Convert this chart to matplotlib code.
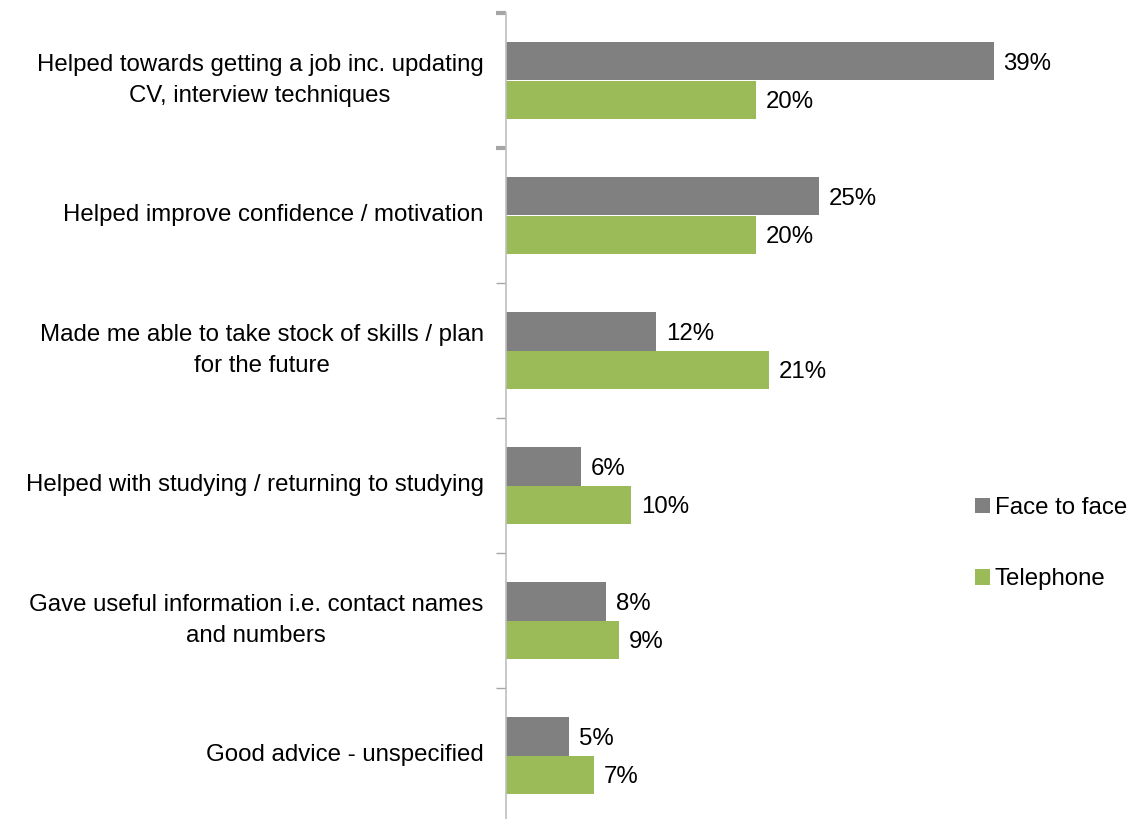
import matplotlib.pyplot as plt
from matplotlib.patches import Patch

categories = [
    "Helped towards getting a job inc. updating\nCV, interview techniques",
    "Helped improve confidence / motivation",
    "Made me able to take stock of skills / plan\nfor the future",
    "Helped with studying / returning to studying",
    "Gave useful information i.e. contact names\nand numbers",
    "Good advice - unspecified",
]
face_to_face = [39, 25, 12, 6, 8, 5]
telephone = [20, 20, 21, 10, 9, 7]
series_names = ["Face to face", "Telephone"]

GREY = "#808080"
GREEN = "#9BBB59"
FS = 17.3

plt.rcParams["font.family"] = ["Liberation Sans", "DejaVu Sans"]

fig = plt.figure(figsize=(11.34, 8.19), dpi=100)
ax = fig.add_axes([506 / 1134, -4 / 819, 625 / 1134, 810 / 819])

n = len(categories)
bar_h = 0.285
centers = list(range(n))
for i in range(n):
    y = centers[i]
    ax.barh(y - bar_h / 2, face_to_face[i], height=bar_h, color=GREY)
    ax.barh(y + bar_h / 2, telephone[i], height=bar_h, color=GREEN)
    ax.text(face_to_face[i] + 0.8, y - bar_h / 2 + 0.02, f"{face_to_face[i]}%",
            va="center", ha="left", fontsize=FS)
    ax.text(telephone[i] + 0.8, y + bar_h / 2 + 0.02, f"{telephone[i]}%",
            va="center", ha="left", fontsize=FS)

ax.set_xlim(0, 50)
ax.set_ylim(n - 0.5, -0.5)

# category labels on the left
for i, lab in enumerate(categories):
    ax.text(-1.8, centers[i], lab, ha="right", va="center", fontsize=FS,
            multialignment="center", linespacing=1.5)

ax.set_yticks([i - 0.5 for i in range(n + 1)])
ax.set_yticklabels([])
ax.tick_params(axis="y", length=7, width=1, color="#A6A6A6", direction="out")
for t in ax.yaxis.get_major_ticks()[:2]:
    t.tick1line.set_color("#7F7F7F")
    t.tick1line.set_markeredgewidth(3)
ax.set_xticks([])
for s in ["top", "right", "bottom"]:
    ax.spines[s].set_visible(False)
ax.spines["left"].set_color("#BFBFBF")
ax.spines["left"].set_linewidth(1.2)

handles = [Patch(facecolor=GREY), Patch(facecolor=GREEN)]
fig.legend(handles, series_names, loc="upper left",
           bbox_to_anchor=(963 / 1134, 1 - 485 / 819), frameon=False,
           fontsize=FS, handlelength=0.62, handleheight=0.62,
           handletextpad=0.2, labelspacing=2.05, borderpad=0)

fig.savefig("out.png", dpi=100)
